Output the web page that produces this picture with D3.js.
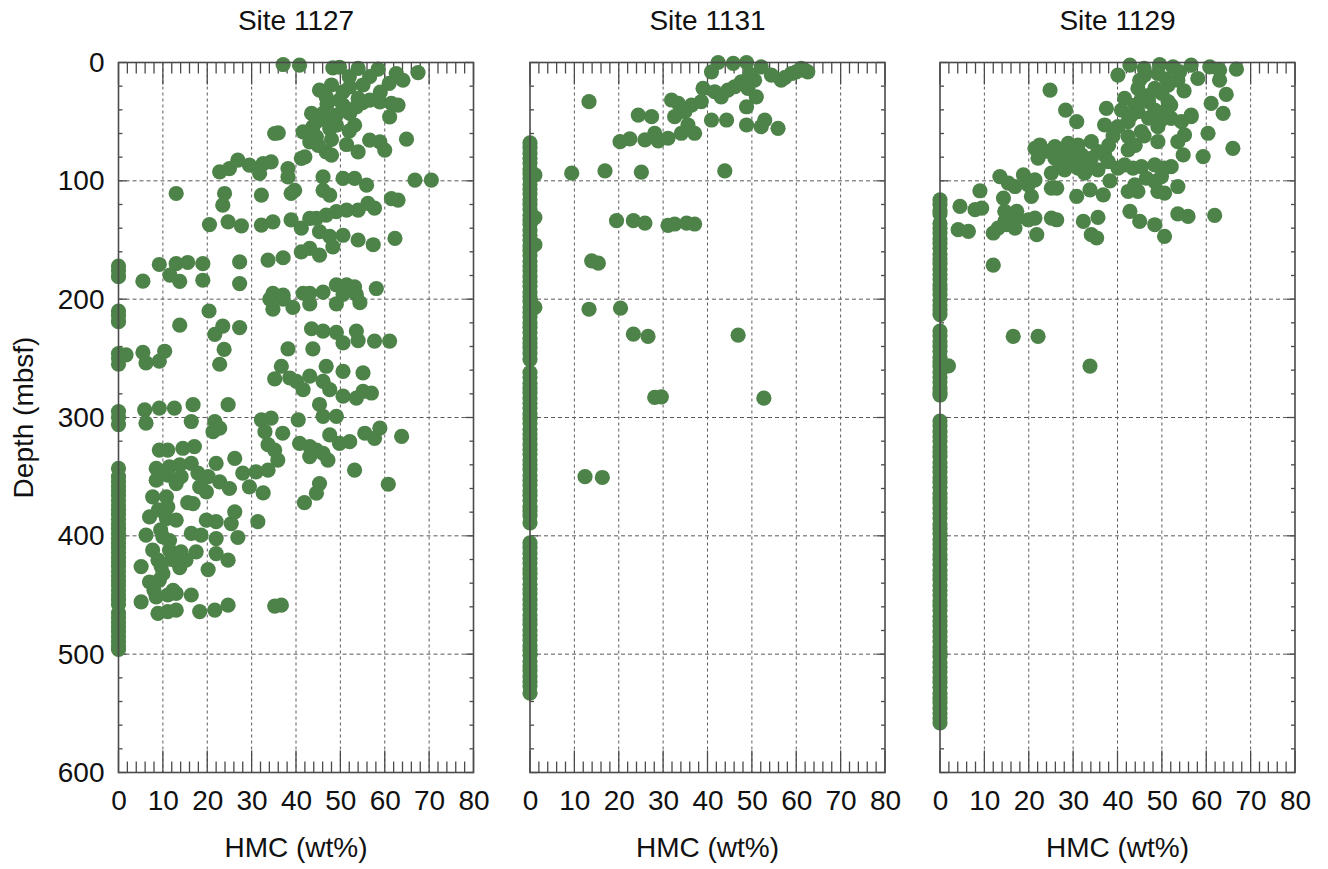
<!DOCTYPE html>
<html>
<head>
<meta charset="utf-8">
<script src="https://cdn.jsdelivr.net/npm/d3@7"></script>
<style>
  html, body { margin: 0; padding: 0; background: #fff; }
  svg { display: block; font-family: "Liberation Sans", Arial, Helvetica, sans-serif; }
</style>
</head>
<body>
<svg id="chart" width="1328" height="869"></svg>
<script>
// Heavy-mineral content (HMC, wt%) versus depth below sea floor at three ODP sites.

const siteNames = ["Site 1127", "Site 1131", "Site 1129"];
const xTickValues = [0, 10, 20, 30, 40, 50, 60, 70, 80];
const yTickValues = [0, 100, 200, 300, 400, 500, 600];

// [HMC wt%, depth mbsf]
const site1127 = [
  [37.1,1.7],[40.8,2.3],[48.3,4.5],[49.8,4],[54,5],[58.5,5.6],[62.6,9.3],[67.5,8.5],[64.1,15],[61,17.7],
  [56.6,12],[55.1,19],[52.1,20.6],[50.6,24.8],[45.3,23.4],[48,19],[46.8,29],[49.8,31.8],[54,30.4],[56.6,31.8],
  [58.9,33.2],[61.5,34.6],[63,36],[53.6,37.5],[52.1,43],[61.1,46],[43.5,43],[46.1,43],[46.8,48.7],[49.1,53],
  [53.2,53],[43.8,54.4],[41.6,58.6],[44.6,62.8],[35.2,60],[36,59.5],[64.9,64.8],[51.4,69.3],[54,75.5],[56.6,65.6],
  [58.9,67],[60,74],[46.8,75.5],[48,78.3],[41.2,81],[42,79.7],[50.6,36],[49.1,44.5],[44.6,50],[47.6,55.8],[43.1,67],
  [47,35],[51,40],[55,34],[48,65],[52,58],[45,70],[52,12],[59,25],
  [22.8,92.4],[25,89.6],[26.9,82.5],[29.5,86.8],[31.8,93.8],[32.6,85.4],[34.4,84],[38.2,89.6],[38.2,96.6],[46.1,96.6],
  [50.6,98],[53.2,98],[55.9,103.7],[46.1,108],[47.6,112],[66.8,99.4],[70.5,99.4],[13,110.7],[23.9,110.7],[23.5,120.6],
  [32.2,112],[38.9,110.7],[39.7,108],[63,116.3],[61.5,115],[57.7,123],[56.2,119],[54,124.8],[51.4,124.8],[49.1,126],
  [46.8,129],[44.6,131.8],[43.1,131.8],[38.9,133],[20.5,137],[24.7,134.6],[27.7,138],[32.2,137.5],[34.8,134.6],[41.2,140],
  [45.3,143],[47.6,147],[50.6,146],[54,150],[57.4,154],[62.3,148.7],[41.2,160],[43.1,157],[45.3,162.8],[48.3,155.8],
  [9.2,170.7],[13,170],[15.6,169],[19,170],[11.6,179.7],[13.8,185],[19,184],[27.3,168.5],[27.3,186.8],[33.7,167],
  [37.1,165],[5.5,184.8],[49.1,188],[51.4,188],[53.2,189.6],[58.1,191],[34.8,195],[37.1,196.6],[41.6,195],[43.1,195],[46.1,194],
  [34.1,200],[34.8,208.5],[37.1,200],[39.3,207],[43.1,204],[49.1,204],[50.6,196],[53.6,196],[54.4,203],
  [20.4,210],[13.8,222],[21.7,229.7],[23.5,222.7],[27.3,224],[23.8,242.5],[22.8,255],[38.2,242],[43.8,242],[43.5,225],
  [46.1,227],[49.1,228],[50.6,237],[53.6,227],[54,235],[57.7,235.4],[61.1,235.4],[1.7,247],[5.5,245],[6.2,253.8],
  [9.2,252.4],[10.4,244],[36.7,256.7],[35.2,267.4],[38.6,266.6],[40.1,269.4],[43.1,265],[41.6,276.5],[46.8,256.7],[50.6,261],
  [46.1,269.4],[55.1,262.3],[45.3,289],[46.1,299],[49.1,299],[47.6,276.5],[50.6,282],[53.6,283.6],[55.1,278],[57,279.3],
  [5.9,293.5],[6.2,304.8],[9.2,292],[12.6,292],[16.8,289.2],[24.7,289.2],[16.4,303.4],[21.7,303.4],[21.3,312],[22.8,309],
  [32.2,302],[34.4,300.6],[40.5,302],[33,312],[37,313.3],[33.7,323],[35.2,327.5],[35.9,336],[40.8,321.8],[43.1,324.6],
  [44.6,327.5],[46.1,330.3],[47.2,336],[43.1,333],[47.6,314.7],[49.8,321.8],[52.1,320.4],[55.5,313.3],[57.7,317.6],[58.9,309],
  [63.8,316],[53.2,344.5],[9.2,327.5],[11.1,327.5],[14.5,326],[17.1,324.6],[22,338.8],[26.2,334.6],[8.5,343],[11.5,341.6],
  [13.8,340],[16.4,338.8],[8.5,353],[11.1,348.7],[14.1,350],[17.9,347],[20.2,350],[22.8,354.4],[28,347],[31,346],
  [33.7,344.5],[45.3,355.8],[60.8,356.4],[18.3,358.6],[25,360],[29.5,358.6],
  [44.6,364],[41.9,372],[32.6,363.7],[19.8,362.8],[13,355.8],[7.7,367],[10.8,367],[11.1,375.5],[15.6,372],[16.8,372.7],
  [7,384],[10.8,385.4],[13,386.8],[19.8,386.8],[22,388],[25.4,389.6],[26.2,379.7],[31.4,388],[6.2,399.4],[10,400.8],
  [16.4,398],[18.6,399.4],[22,402.3],[26.9,401.4],[7.7,412],[11.5,412],[14.1,413.5],[17.5,413.5],[22,415],[24.7,420.6],
  [8.9,420.6],[15.2,420.6],[20.2,428.5],[5.1,426],[9.6,426],[13.8,426.8],[7,439],[9.2,437.5],[12.3,446],[13,448.7],
  [5.1,455.8],[8.5,451.5],[11.1,450],[16.4,450],[8.9,465.6],[11.1,464],[13,462.8],[18.3,464],[21.7,462.8],[24.7,458.6],
  [35.2,459.4],[36.7,458.6],[9.5,395],[11.5,404],[10,432],[8,446],[12,420],[9,378]
];
const zeros1127 = [172,176,181,210,214,219,246,250,255,295,300,306,343,350,354,358,362,366,370,374,378,382,386,390,
  394,398,402,406,410,414,418,422,426,430,434,438,442,446,450,454,458,465,469,473,477,481,485,489,493,496];

const site1131 = [
  [42.4,0],[45.8,0.8],[48.8,0],[40.9,7.9],[52.1,3.7],[54.4,10.7],[56.6,14.9],[58.9,9.3],[61.9,6.5],[62.6,7.9],
  [61.1,5],[49.5,10],[57.5,12.5],[60,8],[47.6,16.3],[50.6,14.9],[49.1,21.9],[51,29],[48.8,37.4],[39,21.9],
  [41.6,24.7],[44.6,23.3],[46.1,20.5],[43.1,29],[31.9,31.7],[33.4,34.5],[36.4,36],[38.6,33],[32.6,45.8],[34.9,41.6],
  [40.9,48.6],[44.3,48.6],[48.8,52.8],[52.1,54.2],[52.9,48.6],[55.9,55.6],[34.1,59.8],[37.1,59.8],[35.6,52.8],[13.3,33.1],
  [24.4,44.4],[27.4,45.8],[20.3,66.9],[22.5,64.6],[25.9,65.4],[28.1,59.8],[28.9,66.3],[31.1,64],[9.4,93.5],[16.9,91.6],
  [25.1,92.7],[43.9,91.6],[19.5,133.7],[23.3,133.7],[25.9,135.7],[31.1,137.6],[32.6,136.5],[35.3,135.7],[37.1,136.5],[13.9,167.6],
  [15.4,169.6],[13.3,208.5],[20.4,207.6],[23.3,229.6],[26.6,231.5],[46.9,230.4],[28.1,283],[29.6,282.5],[52.7,283.7],[12.4,350],
  [16.3,350.7],[1.1,95],[1.1,131],[1.1,154],[1.1,207]
];
const zeros1131 = [68,72,77,81,85,90,94,98,103,107,111,116,120,124,129,133,137,142,146,150,155,159,163,168,172,176,181,
  185,189,194,198,202,207,211,215,220,224,228,233,237,241,246,251,262,266,271,275,279,284,288,292,297,301,305,310,314,
  318,323,327,331,336,340,344,349,353,357,362,366,370,375,379,383,389,406,410,415,419,423,428,432,436,441,445,449,454,
  458,462,467,471,475,480,484,488,493,497,501,506,510,514,519,523,527,533];

const site1129 = [
  [42.8,2.2],[40.1,10.7],[49.5,1.7],[52.5,3.7],[56.6,2.2],[60.8,3.7],[63,6.5],[66.8,5.6],[63,14.9],[64.5,27],
  [61.1,34.6],[63.8,43],[60.4,59.8],[46.1,10.7],[49.1,9.3],[53.6,14.9],[58.1,13.5],[44.6,21.9],[48.4,21.9],[51.4,19.1],
  [41.6,30.3],[45.4,30.3],[51.4,33.1],[56.6,44.4],[37.5,38.8],[40.9,40.2],[42.4,50],[44.6,41.6],[48.4,40.2],[50.6,41.6],
  [24.8,23.3],[28.3,40.2],[30.8,50],[37.1,52.8],[40.1,54.2],[42.4,62.6],[45.4,58.4],[49.1,54.2],[52.1,47.2],[54.4,50],
  [56.6,45.8],[55.1,61.2],[53.6,66.9],[49.1,66.9],[54.8,78.1],[59.3,79.5],[66,72.5],[34.1,66.9],[35.6,75.3],[42.4,73.9],
  [21.4,72.5],[22.5,69.7],[25.9,71.1],[28.9,68.3],[31.1,69.7],[22.1,80.9],[25.9,80.9],[28.1,78.1],[29.6,83.7],[31.9,78.1],
  [34.1,80.9],[37.1,78.1],[25.1,93.5],[28.1,90.7],[31.1,89.3],[32.6,93.5],[35.6,90.7],[37.9,83.7],[40.1,89.3],[41.6,86.5],
  [43.5,89.3],[45.4,88],[46.5,97.8],[48.4,86.5],[50.6,89.3],[52.1,88],[48.4,100.6],[49.9,96.4],[38.3,100],[43.9,103.4],
  [44.6,109],[42.4,109],[49.1,109],[50.6,110.4],[53.6,104.8],[13.5,96.4],[18.8,94.9],[21.4,99.2],[26.3,106.2],[25.1,106.2],
  [15.4,102],[16.9,104.8],[19.9,103.4],[9,108.4],[14.3,114.6],[20.6,113.2],[30.8,113.2],[33.8,107.6],[36.8,111.8],[4.5,121.6],
  [7.9,124.4],[9.4,123],[14.6,125.8],[17.3,125.8],[14.6,134.3],[17.3,131.5],[19.9,132.9],[21.4,131.5],[12,144.1],[13.1,139.9],
  [15,137.1],[16.9,139.9],[21.8,145.5],[25.1,131.5],[26.3,132.9],[32.3,134.3],[35.6,130.9],[34.1,145.5],[35.3,148.3],[42.8,125.8],
  [45,134.3],[48.4,137.1],[50.6,146.9],[53.6,128],[55.9,130.1],[61.9,129.2],[4.1,141.3],[6.4,142.7],[12,171.3],[16.5,231.5],
  [22.1,231.5],[1.9,256.3],[33.8,256.5],[46,5],[54,8],[47,28],[50,26],[44,36],[47,47],[52,36],[55,24],
  [45,15],[51,14],[47,33],[43,45],[50,48],[46,62],[44,70],[39,62],[38,70],[31,74],[27,85],[24,75],[33,87]
];
const zeros1129 = [116,120,125,128,136,140,144,149,153,157,162,166,170,175,179,183,188,192,196,201,205,209,213,227,231,
  236,240,244,249,253,257,262,266,270,275,279,281,303,307,312,316,320,325,329,333,338,342,346,351,355,359,364,368,372,
  377,381,385,390,394,398,403,407,411,416,420,424,429,433,437,442,446,450,455,459,463,468,472,476,481,485,489,494,498,
  502,507,511,515,520,524,528,533,537,541,546,550,554,558];

const panels = [
  { name: siteNames[0], points: site1127, zeros: zeros1127, left: 118.5, showY: true },
  { name: siteNames[1], points: site1131, zeros: zeros1131, left: 530, showY: false },
  { name: siteNames[2], points: site1129, zeros: zeros1129, left: 940, showY: false }
];

const W = 355, H = 710, TOP = 62.5, R = 7.6;
const FRAME = "#4a4a4a", DOT = "#4d8249";
const svg = d3.select("#chart");

const x = d3.scaleLinear().domain([0, 80]).range([0, W]);
const y = d3.scaleLinear().domain([0, 600]).range([0, H]);

panels.forEach(p => {
  const g = svg.append("g").attr("transform", `translate(${p.left},${TOP})`);

  // dashed grid
  g.append("g").selectAll("line").data(xTickValues.slice(1, -1)).join("line")
    .attr("x1", d => x(d)).attr("x2", d => x(d)).attr("y1", 0).attr("y2", H)
    .attr("stroke", "#5a5a5a").attr("stroke-width", 1).attr("stroke-dasharray", "3,3");
  g.append("g").selectAll("line").data(yTickValues.slice(1, -1)).join("line")
    .attr("x1", 0).attr("x2", W).attr("y1", d => y(d)).attr("y2", d => y(d))
    .attr("stroke", "#5a5a5a").attr("stroke-width", 1).attr("stroke-dasharray", "4,3");

  // minor ticks: every 2 wt% on x, every 20 m on y
  const xMinor = d3.range(0, 81, 2).filter(v => v % 10 !== 0);
  const yMinor = d3.range(0, 601, 20).filter(v => v % 100 !== 0);

  const tickLayer = g.append("g").attr("stroke", FRAME).attr("stroke-width", 1.3);
  [0, H].forEach((edge, i) => {
    const dir = i === 0 ? 1 : -1;
    tickLayer.selectAll(null).data(xMinor).join("line")
      .attr("x1", d => x(d)).attr("x2", d => x(d)).attr("y1", edge).attr("y2", edge + dir * 11);
    tickLayer.selectAll(null).data(xTickValues).join("line")
      .attr("x1", d => x(d)).attr("x2", d => x(d)).attr("y1", edge).attr("y2", edge + dir * 22);
  });
  [0, W].forEach((edge, i) => {
    const dir = i === 0 ? 1 : -1;
    tickLayer.selectAll(null).data(yMinor).join("line")
      .attr("y1", d => y(d)).attr("y2", d => y(d)).attr("x1", edge).attr("x2", edge + dir * 4);
    tickLayer.selectAll(null).data(yTickValues).join("line")
      .attr("y1", d => y(d)).attr("y2", d => y(d)).attr("x1", edge).attr("x2", edge + dir * 8);
  });

  // x axis labels
  const xAxis = d3.axisBottom(x).tickValues(xTickValues).tickSize(0).tickPadding(18).tickFormat(d3.format("d"));
  const xa = g.append("g").attr("transform", `translate(0,${H})`).call(xAxis);
  xa.select(".domain").remove();
  xa.selectAll("text").attr("font-size", 28).attr("fill", "#111").attr("font-family", "Liberation Sans, Arial, sans-serif");

  if (p.showY) {
    const yAxis = d3.axisLeft(y).tickValues(yTickValues).tickSize(0).tickPadding(14).tickFormat(d3.format("d"));
    const ya = g.append("g").call(yAxis);
    ya.select(".domain").remove();
    ya.selectAll("text").attr("font-size", 28).attr("fill", "#111").attr("font-family", "Liberation Sans, Arial, sans-serif");
  }

  // data points
  const dots = g.append("g").attr("fill", DOT);
  dots.selectAll(null).data(p.zeros).join("circle")
    .attr("cx", x(0)).attr("cy", d => y(d)).attr("r", R);
  dots.selectAll(null).data(p.points).join("circle")
    .attr("cx", d => x(d[0])).attr("cy", d => y(d[1])).attr("r", R);

  // frame
  g.append("rect").attr("x", 0).attr("y", 0).attr("width", W).attr("height", H)
    .attr("fill", "none").attr("stroke", FRAME).attr("stroke-width", 1.6);

  // titles
  g.append("text").attr("x", W / 2).attr("y", -33).attr("text-anchor", "middle")
    .attr("font-size", 28).attr("fill", "#111").text(p.name);
  g.append("text").attr("x", W / 2).attr("y", 857 - TOP).attr("text-anchor", "middle")
    .attr("font-size", 28).attr("fill", "#111").text("HMC (wt%)");
});

svg.append("text")
  .attr("transform", `translate(33,${TOP + H / 2}) rotate(-90)`)
  .attr("text-anchor", "middle").attr("font-size", 28).attr("fill", "#111")
  .text("Depth (mbsf)");
</script>
</body>
</html>
